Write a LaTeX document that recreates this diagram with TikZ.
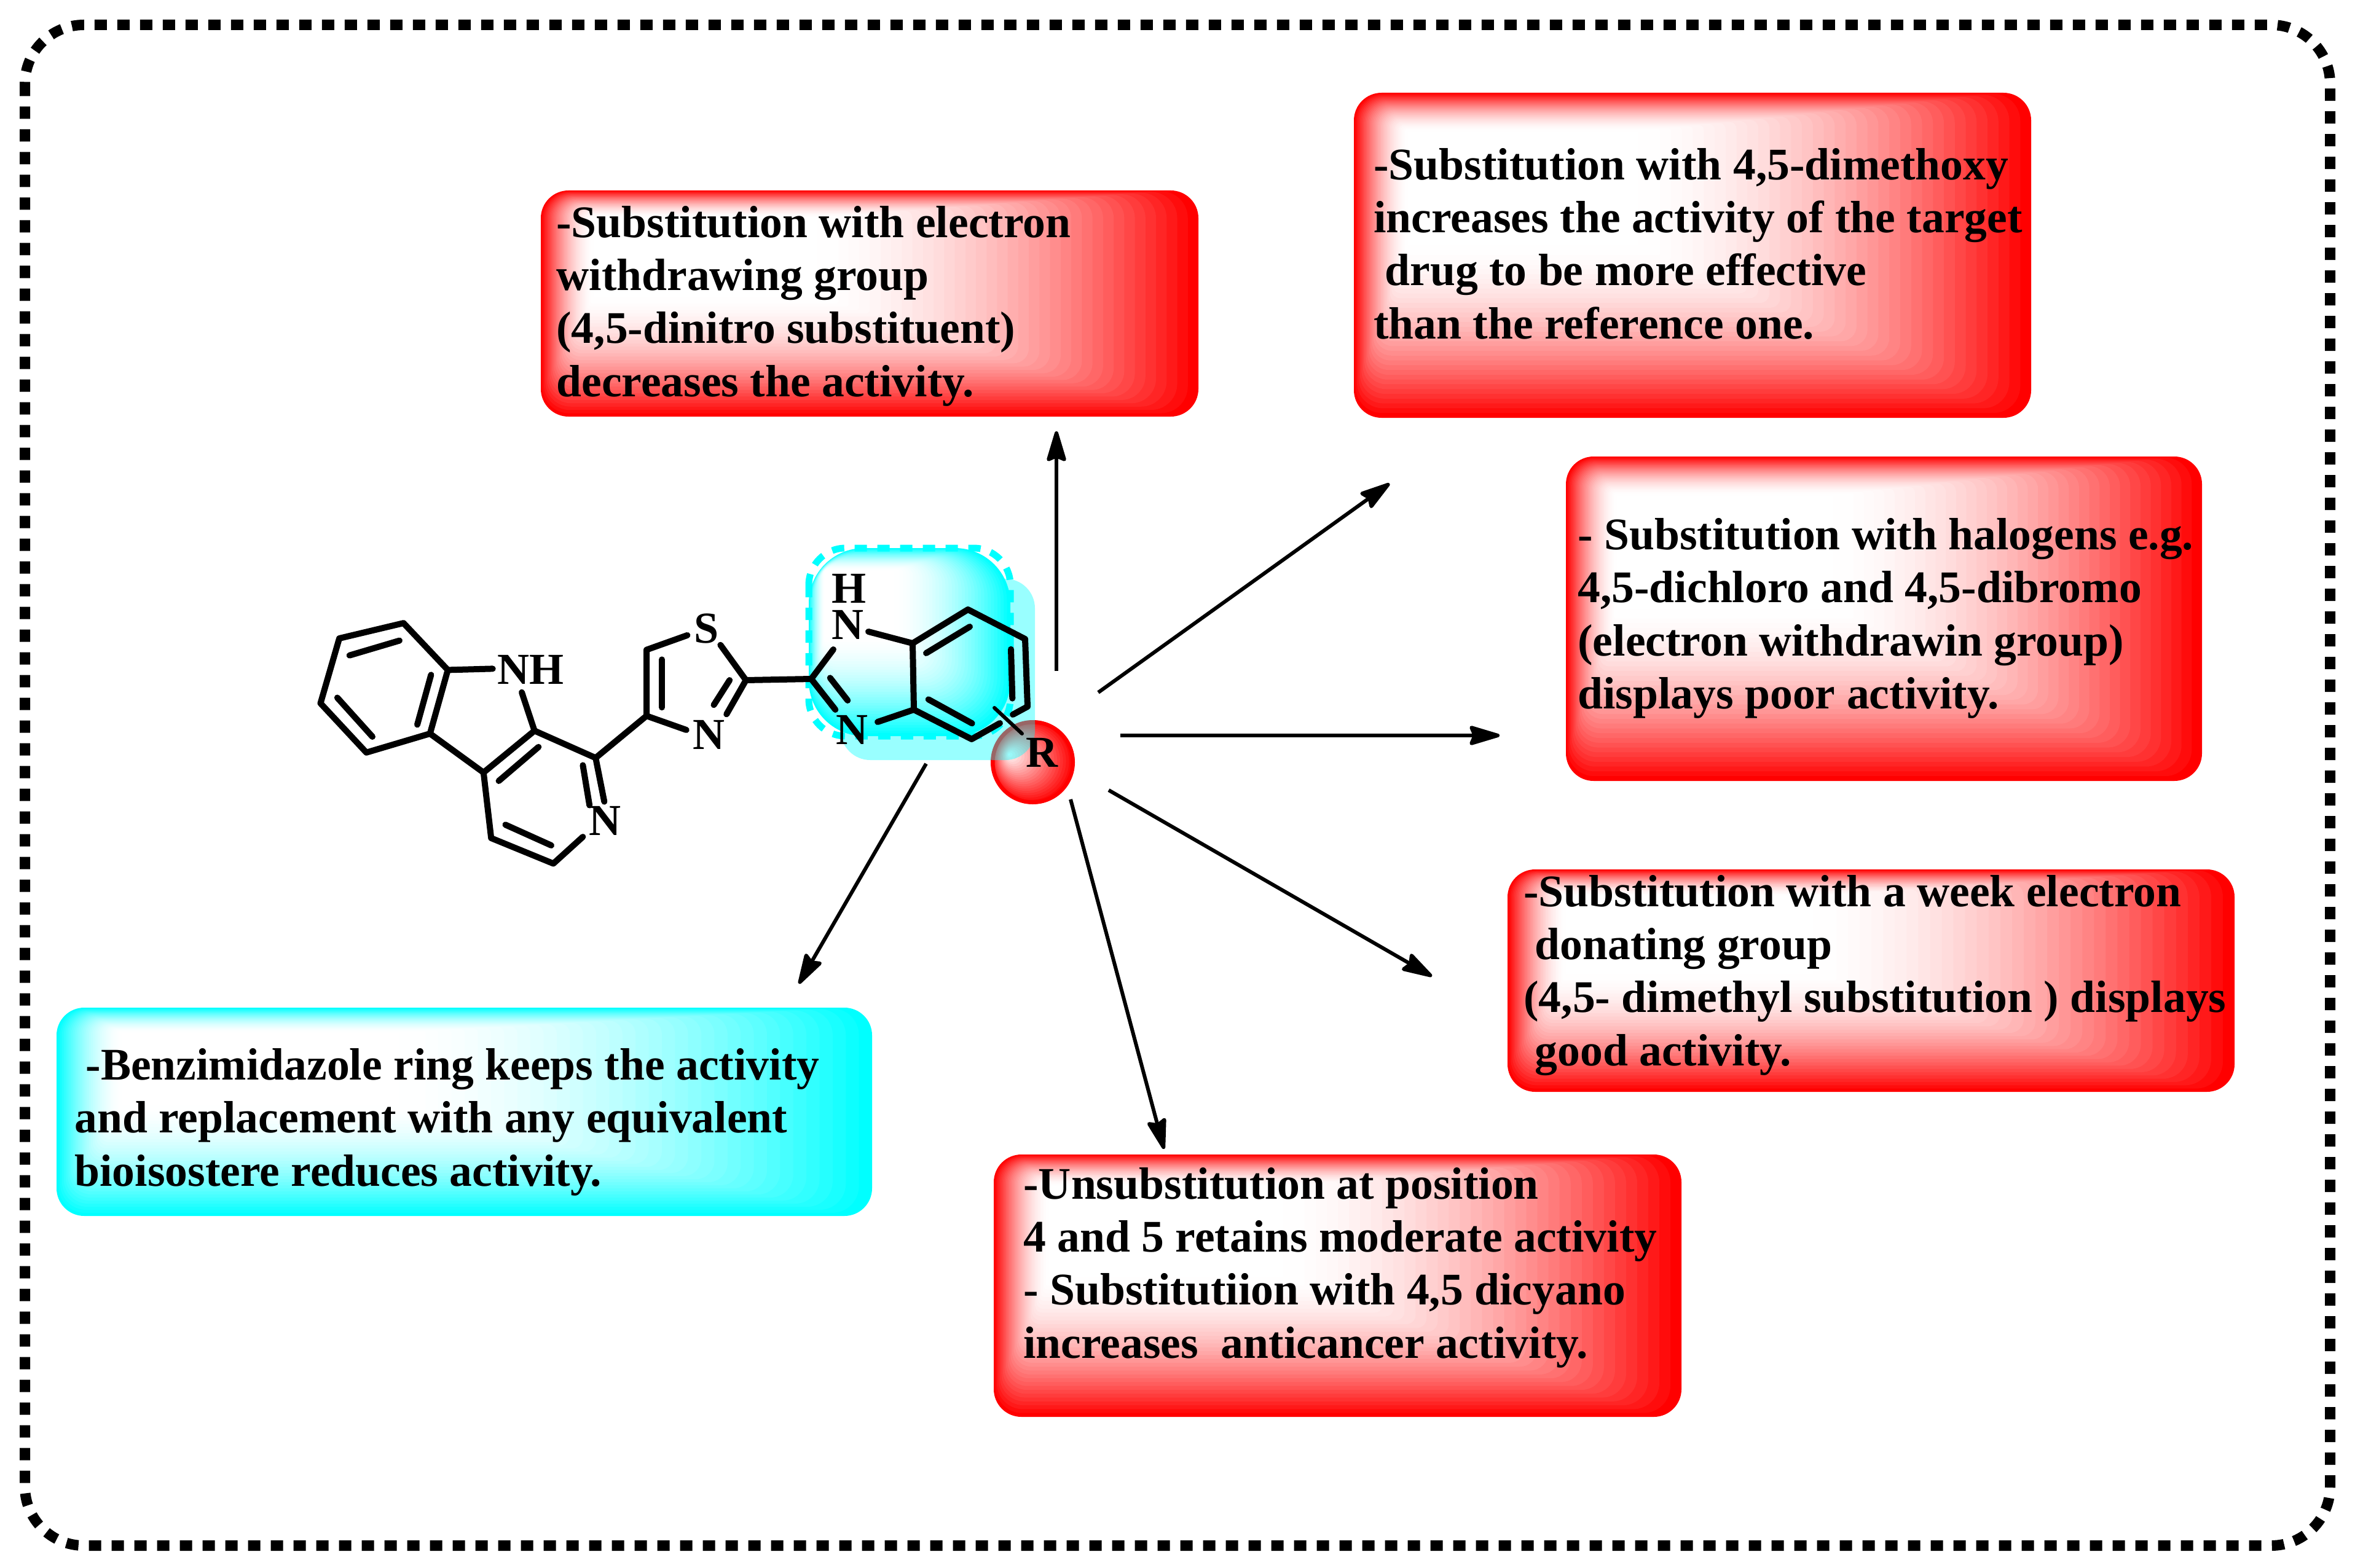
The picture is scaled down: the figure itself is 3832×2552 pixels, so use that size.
\documentclass[tikz,border=0pt]{standalone}
\usepackage{fontspec}
\setmainfont{Liberation Serif}
\usetikzlibrary{arrows.meta}
\definecolor{aqua}{RGB}{0,255,255}
\newcommand{\gradbox}[6]{%
  \pgfmathsetmacro\cxa{#1+0.08*(#3-#1)}%
  \pgfmathsetmacro\cya{#2+0.12*(#4-#2)}%
  \pgfmathsetmacro\cxb{#1+0.42*(#3-#1)}%
  \pgfmathsetmacro\cyb{#2+0.47*(#4-#2)}%
  \foreach \i in {0,...,36}{%
    \pgfmathsetmacro\tt{\i/36}%
    \pgfmathsetmacro\pp{100*(1-(1-\tt)^1.8)}%
    \pgfmathsetmacro\rr{max(#6*(1-\tt)*0.5,0.01)}%
    \pgfmathsetmacro\xa{#1+(\cxa-#1)*\tt}%
    \pgfmathsetmacro\ya{#2+(\cya-#2)*\tt}%
    \pgfmathsetmacro\xb{#3+(\cxb-#3)*\tt}%
    \pgfmathsetmacro\yb{#4+(\cyb-#4)*\tt}%
    \fill[white!\pp!#5,rounded corners=\rr pt] (\xa,\ya) rectangle (\xb,\yb);
  }%
}
\tikzset{
  every picture/.style={x=0.5pt,y=-0.5pt},
  frameline/.style={draw=black,line width=8.5pt,dash pattern=on 10pt off 8.5pt,rounded corners=48pt},
  boxtext/.style={anchor=base west,inner sep=0pt,align=left,text=black,
     font=\fontsize{36.8pt}{43.15pt}\selectfont\bfseries},
  atom/.style={anchor=base,inner sep=0pt,text=black,font=\fontsize{36pt}{40pt}\selectfont\bfseries},
  bond/.style={draw=black,line width=5pt,line cap=round,line join=round},
  rbond/.style={draw=black,line width=3pt,line cap=round},
  sar/.style={draw=black,line width=3pt,-{Stealth[length=29pt,width=17pt,inset=3.5pt,round]}},
}
\begin{document}
\begin{tikzpicture}
\useasboundingbox (0,0) rectangle (3832,2552);
\fill[white] (0,0) rectangle (3832,2552);
\draw[frameline] (40.5,40.5) rectangle (3791.5,2515.5);

% text boxes
\gradbox{880}{310}{1950}{678}{red}{45}
\gradbox{2203}{151}{3305}{680}{red}{45}
\gradbox{2548}{743}{3583}{1271}{red}{45}
\gradbox{2453}{1415}{3636}{1777}{red}{45}
\gradbox{1617}{1879}{2736}{2306}{red}{45}
\gradbox{92}{1640}{1419}{1979}{aqua}{45}

\node[boxtext] (tdinitro) at (905,645) {-Substitution with electron\\withdrawing group\\(4,5-dinitro substituent)\\decreases the activity.};
\node[boxtext] (tmethoxy) at (2235,551) {-Substitution with 4,5-dimethoxy\\increases the activity of the target\\\hspace*{9.1pt}drug to be more effective\\than the reference one.};
\node[boxtext] (thalogen) at (2567,1153.3) {- Substitution with halogens e.g.\\4,5-dichloro and 4,5-dibromo\\(electron withdrawin group)\\displays poor activity.};
\node[boxtext] (tmethyl) at (2479,1734) {-Substitution with a week electron\\\hspace*{9.1pt}donating group\\(4,5- dimethyl substitution ) displays\\\hspace*{9.1pt}good activity.};
\node[boxtext] (tcyano) at (1665,2210) {-Unsubstitution at position\\4 and 5 retains moderate activity\\- Substitutiion with 4,5 dicyano\\increases\ \ anticancer activity.};
\node[boxtext] (tbenz) at (121,1930) {\hspace*{9.1pt}-Benzimidazole ring keeps the activity\\and replacement with any equivalent\\bioisostere reduces activity.};

% R highlight
\foreach \i in {0,...,22}{%
  \pgfmathsetmacro\tt{\i/22}%
  \pgfmathsetmacro\pp{100*\tt}%
  \pgfmathsetmacro\ccx{1680.5+(1642-1680.5)*\tt}%
  \pgfmathsetmacro\ccy{1240.5+(1228-1240.5)*\tt}%
  \pgfmathsetmacro\crr{67.5*(1-\tt)+1}%
  \fill[white!\pp!red] (\ccx,\ccy) circle[radius=\crr];
}
\draw[red,line width=3pt] (1680.5,1240.5) circle[radius=65];
% pale aqua plate, translucent over the R circle
\fill[aqua,opacity=0.4,rounded corners=24pt] (1368,942) rectangle (1684,1237);
% benzimidazole highlight
\gradbox{1316}{892}{1644}{1198}{aqua}{90}
\draw[aqua,line width=5.5pt,dash pattern=on 10pt off 8.5pt,rounded corners=30pt] (1316,892) rectangle (1644,1198);

% skeleton points
\coordinate (a1) at (656.6,1014.1);
\coordinate (a2) at (552.1,1039);
\coordinate (a3) at (521.5,1144.6);
\coordinate (a4) at (596.1,1224.8);
\coordinate (a5) at (699.7,1194);
\coordinate (a6) at (728.7,1090.4);
\coordinate (a7) at (869.7,1189.3);
\coordinate (a8) at (786.8,1257.3);
\coordinate (a9) at (969.2,1233.5);
\coordinate (a10) at (799.2,1364);
\coordinate (a11) at (900.4,1405.5);
\coordinate (b1) at (1052,1165.1);
\coordinate (b2) at (1052,1057.6);
\coordinate (b3) at (1213.8,1107);
\coordinate (c1) at (1320,1105);
\coordinate (c2) at (1485,1047);
\coordinate (c3) at (1487,1155);
\coordinate (c4) at (1575,992);
\coordinate (c5) at (1668,1040);
\coordinate (c6) at (1672,1150);
\coordinate (c7) at (1581,1203);
% bond ends beside atom labels
\coordinate (e1) at (801.7,1088.4);
\coordinate (e2) at (849,1126.8);
\coordinate (e3) at (983.3,1304.7);
\coordinate (e4) at (948.4,1362);
\coordinate (e5) at (1118.4,1033.9);
\coordinate (e6) at (1172.3,1049.7);
\coordinate (e7) at (1182.2,1162.4);
\coordinate (e8) at (1116.8,1188);
\coordinate (e9) at (1356,1057);
\coordinate (e10) at (1413,1028);
\coordinate (e11) at (1359.3,1155);
\coordinate (e12) at (1428,1175);
\coordinate (e13) at (1648,1163);
\coordinate (e14) at (1627,1177);
\coordinate (r1) at (1618,1152);
\coordinate (r2) at (1663,1194);
% inner lines of double bonds
\coordinate (i1a) at (568.7,1066.7); \coordinate (i1b) at (650,1042.6);
\coordinate (i2a) at (701.4,1098.3); \coordinate (i2b) at (679,1179.4);
\coordinate (i3a) at (548.8,1135.5); \coordinate (i3b) at (606,1199);
\coordinate (i4a) at (811.6,1271); \coordinate (i4b) at (876.3,1215.7);
\coordinate (i5a) at (948.4,1245.4); \coordinate (i5b) at (959.2,1310.6);
\coordinate (i6a) at (822.4,1342.3); \coordinate (i6b) at (897,1375.9);
\coordinate (i7a) at (1077,1073.4); \coordinate (i7b) at (1077,1151.3);
\coordinate (i8a) at (1187.2,1107); \coordinate (i8b) at (1161.5,1147.3);
\coordinate (i9a) at (1350.7,1103.3); \coordinate (i9b) at (1379.3,1140);
\coordinate (i10a) at (1507,1063); \coordinate (i10b) at (1578,1020);
\coordinate (i11a) at (1645,1056.7); \coordinate (i11b) at (1647.3,1136.7);
\coordinate (i12a) at (1510.7,1138.3); \coordinate (i12b) at (1581.7,1177.3);

% bonds
\draw[bond] (a6)--(a1)--(a2)--(a3)--(a4)--(a5)--(a6);
\draw[bond] (a6)--(e1);
\draw[bond] (e2)--(a7);
\draw[bond] (a5)--(a8)--(a7)--(a9)--(e3);
\draw[bond] (a8)--(a10)--(a11)--(e4);
\draw[bond] (a9)--(b1);
\draw[bond] (e8)--(b1)--(b2)--(e5);
\draw[bond] (e6)--(b3)--(e7);
\draw[bond] (b3)--(c1);
\draw[bond] (e9)--(c1)--(e11);
\draw[bond] (e10)--(c2)--(c3)--(e12);
\draw[bond] (c2)--(c4)--(c5)--(c6)--(e13);
\draw[bond] (c3)--(c7)--(e14);
\foreach \k in {1,...,12}{\draw[bond] (i\k a)--(i\k b);}
\draw[rbond] (r1)--(r2);

% atoms
\node[atom,anchor=base west] (nNH) at (809,1113.7) {NH};
\node[atom] (nPy) at (984,1359) {N};
\node[atom] (nS) at (1150,1046.5) {S};
\node[atom] (nTh) at (1153,1219.7) {N};
\node[atom] (nHN) at (1379,1040) {N};
\node[atom] (nH) at (1381.7,981.7) {H};
\node[atom] (nBN) at (1386.7,1211.7) {N};
\node[atom] (nR) at (1695,1248) {R};

% arrows
\coordinate (s1) at (1719,1092); \coordinate (t1) at (1719,702);
\coordinate (s2) at (1787,1127); \coordinate (t2) at (2261,787);
\coordinate (s3) at (1823,1197); \coordinate (t3) at (2440,1197);
\coordinate (s4) at (1804,1286); \coordinate (t4) at (2330,1589);
\coordinate (s5) at (1742,1301); \coordinate (t5) at (1894,1870);
\coordinate (s6) at (1507,1243); \coordinate (t6) at (1300,1601);
\foreach \k in {1,...,6}{\draw[sar] (s\k)--(t\k);}
\end{tikzpicture}
\end{document}
